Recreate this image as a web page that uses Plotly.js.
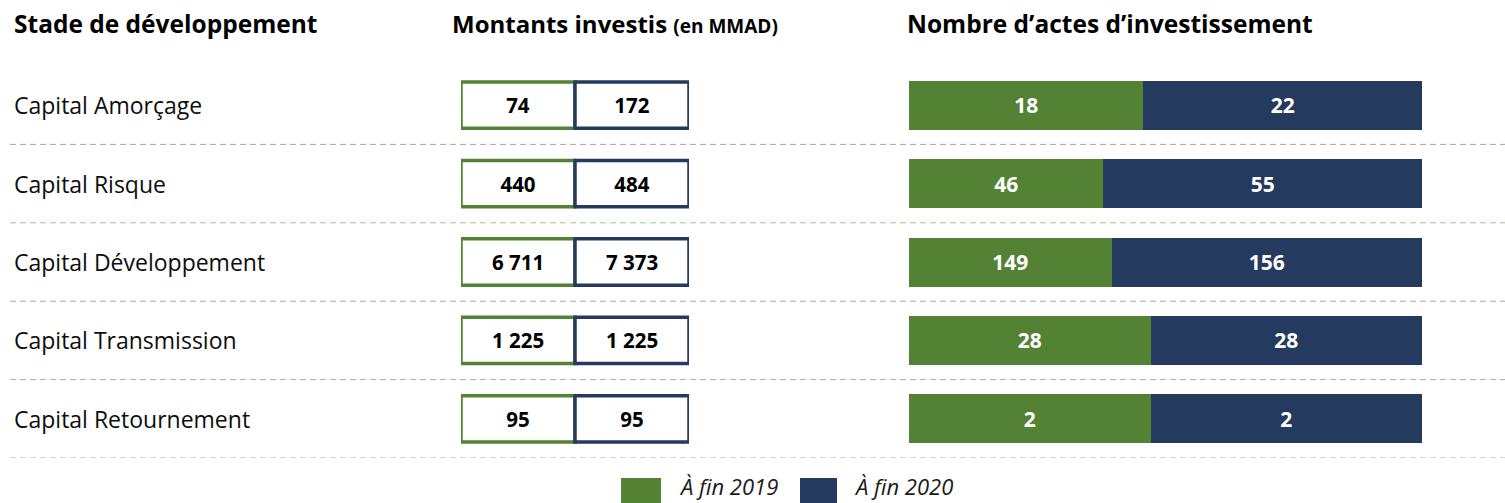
<!DOCTYPE html>
<html>
<head>
<meta charset="utf-8">
<script src="https://cdn.plot.ly/plotly-3.0.1.min.js"></script>
<style>html,body{margin:0;padding:0;background:#fff;}#chart{width:1505px;height:503px;}</style>
</head>
<body>
<div id="chart"></div>
<script>
// ---- data ----
const categories = ['Capital Amorçage', 'Capital Risque', 'Capital Développement', 'Capital Transmission', 'Capital Retournement'];
const seriesNames = ['À fin 2019', 'À fin 2020'];
const amounts2019 = [74, 440, 6711, 1225, 95];     // Montants investis (MMAD)
const amounts2020 = [172, 484, 7373, 1225, 95];
const deals2019 = [18, 46, 149, 28, 2];             // Nombre d'actes
const deals2020 = [22, 55, 156, 28, 2];
const barShare2019 = [0.457, 0.379, 0.395, 0.471, 0.471]; // green share of each bar as drawn
const headerStade = 'Stade de développement';
const headerMontants = 'Montants investis';
const headerMontantsUnit = '(en MMAD)';
const headerActes = 'Nombre d’actes d’investissement';

// ---- styles ----
const GREEN = '#548235';
const NAVY = '#253A5F';
const W = 1505, H = 503, MT = 66, MB = 45;
const px = v => v / W;
const py = v => 1 - (v - MT) / (H - MT - MB);
const FONT = '"Open Sans", "Noto Sans", sans-serif';

function fmt(n) {
  return String(n).replace(/\B(?=(\d{3})+(?!\d))/g, ' ');
}

const cellWidth = categories.map(() => 1);
const share2020 = barShare2019.map(s => 1 - s);

const traces = [
  { // middle boxes 2019
    type: 'bar', orientation: 'h', y: categories, x: cellWidth, base: categories.map(() => 0),
    xaxis: 'x', yaxis: 'y', width: 0.59,
    marker: { color: '#ffffff', line: { color: GREEN, width: 3.5 } },
    text: amounts2019.map(fmt), textposition: 'inside', insidetextanchor: 'middle',
    textfont: { family: FONT, size: 20.5, color: '#000', weight: 'bold' },
    hoverinfo: 'skip', name: seriesNames[0], showlegend: false
  },
  { // middle boxes 2020
    type: 'bar', orientation: 'h', y: categories, x: cellWidth, base: cellWidth,
    xaxis: 'x', yaxis: 'y', width: 0.59,
    marker: { color: '#ffffff', line: { color: NAVY, width: 3.5 } },
    text: amounts2020.map(fmt), textposition: 'inside', insidetextanchor: 'middle',
    textfont: { family: FONT, size: 20.5, color: '#000', weight: 'bold' },
    hoverinfo: 'skip', name: seriesNames[1], showlegend: false
  },
  { // right bars 2019
    type: 'bar', orientation: 'h', y: categories, x: barShare2019, base: categories.map(() => 0),
    xaxis: 'x2', yaxis: 'y', width: 0.625,
    marker: { color: GREEN, line: { width: 0 } },
    text: deals2019.map(String), textposition: 'inside', insidetextanchor: 'middle',
    textfont: { family: FONT, size: 21, color: '#fff', weight: 'bold' },
    hoverinfo: 'skip', name: seriesNames[0], showlegend: false
  },
  { // right bars 2020
    type: 'bar', orientation: 'h', y: categories, x: share2020, base: barShare2019,
    xaxis: 'x2', yaxis: 'y', width: 0.625,
    marker: { color: NAVY, line: { width: 0 } },
    text: deals2020.map(String), textposition: 'inside', insidetextanchor: 'middle',
    textfont: { family: FONT, size: 21, color: '#fff', weight: 'bold' },
    hoverinfo: 'skip', name: seriesNames[1], showlegend: false
  }
];

const shapes = [];
categories.forEach((c, i) => {
  shapes.push({
    type: 'line', xref: 'paper', yref: 'y', x0: px(10), x1: 1, y0: i + 0.5, y1: i + 0.5,
    line: { color: i === 1 ? '#A9C08F' : '#A8A8A8', width: 1, dash: '6px,4px' }
  });
});
// legend swatches
shapes.push({ type: 'rect', xref: 'paper', yref: 'paper', x0: px(621), x1: px(661), y0: py(478), y1: py(512),
  fillcolor: GREEN, line: { width: 0 } });
shapes.push({ type: 'rect', xref: 'paper', yref: 'paper', x0: px(800), x1: px(837), y0: py(478), y1: py(512),
  fillcolor: NAVY, line: { width: 0 } });

const annotations = [];
categories.forEach(c => {
  annotations.push({ xref: 'paper', yref: 'y', x: px(12), y: c, xanchor: 'left', yanchor: 'middle',
    text: c, showarrow: false, font: { family: FONT, size: 23, color: '#0d0d0d' } });
});
annotations.push({ xref: 'paper', yref: 'paper', x: px(12), y: py(24), xanchor: 'left', yanchor: 'middle',
  text: '<b>' + headerStade + '</b>', showarrow: false, font: { family: FONT, size: 24.5, color: '#000' } });
annotations.push({ xref: 'paper', yref: 'paper', x: px(450), y: py(24), xanchor: 'left', yanchor: 'middle',
  text: '<b>' + headerMontants + ' <span style="font-size:19px">' + headerMontantsUnit + '</span></b>',
  showarrow: false, font: { family: FONT, size: 24, color: '#000' } });
annotations.push({ xref: 'paper', yref: 'paper', x: px(905), y: py(24), xanchor: 'left', yanchor: 'middle',
  text: '<b>' + headerActes + '</b>', showarrow: false, font: { family: FONT, size: 24.5, color: '#000' } });
annotations.push({ xref: 'paper', yref: 'paper', x: px(678), y: py(486), xanchor: 'left', yanchor: 'middle',
  text: '<i>' + seriesNames[0] + '</i>', showarrow: false, borderpad: 0, font: { family: FONT, size: 22, color: '#1a1a1a' } });
annotations.push({ xref: 'paper', yref: 'paper', x: px(853), y: py(486), xanchor: 'left', yanchor: 'middle',
  text: '<i>' + seriesNames[1] + '</i>', showarrow: false, borderpad: 0, font: { family: FONT, size: 22, color: '#1a1a1a' } });

const layout = {
  width: W, height: H,
  margin: { l: 0, r: 0, t: MT, b: MB, pad: 0 },
  paper_bgcolor: '#fff', plot_bgcolor: '#fff',
  barmode: 'overlay', bargap: 0,
  showlegend: false,
  xaxis: { domain: [px(461), px(689)], range: [0, 2], visible: false, fixedrange: true },
  xaxis2: { domain: [px(909), px(1422)], range: [0, 1], visible: false, fixedrange: true, anchor: 'y' },
  yaxis: { type: 'category', categoryorder: 'array', categoryarray: categories, range: [4.5, -0.5], visible: false, fixedrange: true },
  shapes: shapes,
  annotations: annotations,
  font: { family: FONT }
};

Plotly.newPlot('chart', traces, layout, { displayModeBar: false, staticPlot: true });
</script>
</body>
</html>
